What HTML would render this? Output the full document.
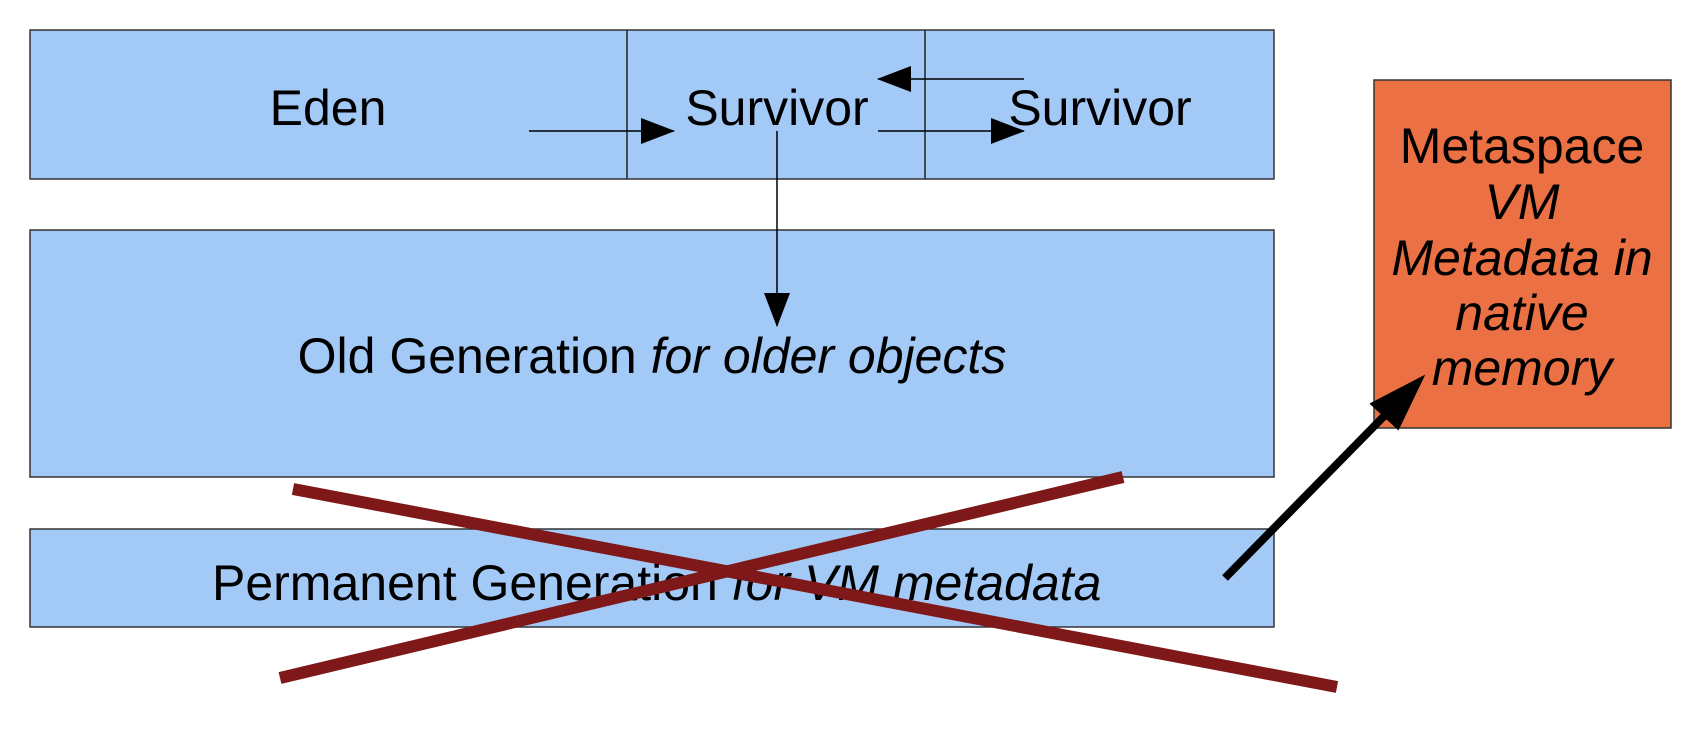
<!DOCTYPE html>
<html><head><style>
body{margin:0;width:1704px;height:724px;background:#fff;overflow:hidden;}
</style></head><body>
<svg width="1704" height="724" viewBox="0 0 1704 724" xmlns="http://www.w3.org/2000/svg" font-family="Liberation Sans, sans-serif">
<defs>
<marker id="a" markerWidth="34" markerHeight="26" refX="33" refY="13" orient="auto" markerUnits="userSpaceOnUse" viewBox="0 0 34 26">
<path d="M0,0 L34,13 L0,26z" fill="#000"/></marker>
</defs>
<g fill="#a3c9f7" stroke="#333" stroke-width="1.5">
<rect x="30" y="30" width="1244" height="149"/>
<rect x="30" y="230" width="1244" height="247"/>
<rect x="30" y="529" width="1244" height="98"/>
</g>
<line x1="627" y1="30" x2="627" y2="179" stroke="#222" stroke-width="1.5"/>
<line x1="925" y1="30" x2="925" y2="179" stroke="#222" stroke-width="1.5"/>
<rect x="1374" y="80" width="297" height="348" fill="#eb7043" stroke="#333" stroke-width="1.5"/>
<g font-size="50" fill="#000" text-anchor="middle">
<text x="328" y="125">Eden</text>
<text x="777" y="125">Survivor</text>
<text x="1100" y="125">Survivor</text>
<text x="652" y="373">Old Generation <tspan font-style="italic">for older objects</tspan></text>
<text x="1522" y="163">Metaspace</text>
<text x="1522" y="219" font-style="italic">VM</text>
<text x="1522" y="275" font-style="italic">Metadata in</text>
<text x="1522" y="330" font-style="italic">native</text>
<text x="1522" y="385" font-style="italic">memory</text>
<text x="212" y="600" text-anchor="start">Permanent Generation <tspan font-style="italic">for VM metadata</tspan></text>
</g>
<g stroke="#000" stroke-width="1.5" fill="none">
<line x1="529" y1="131" x2="674" y2="131" marker-end="url(#a)"/>
<line x1="878" y1="131" x2="1024" y2="131" marker-end="url(#a)"/>
<line x1="1024" y1="79" x2="878" y2="79" marker-end="url(#a)"/>
<line x1="777" y1="131" x2="777" y2="326" marker-end="url(#a)"/>
</g>
<g stroke="#7f1818" stroke-width="12">
<line x1="293" y1="489" x2="1337" y2="687"/>
<line x1="280" y1="678" x2="1123" y2="477"/>
</g>
<line x1="1225" y1="578" x2="1395" y2="405" stroke="#000" stroke-width="8"/>
<path d="M1422,378 L1372,404 L1398,428z" fill="#000" stroke="#000" stroke-width="3"/>
</svg>
</body></html>
